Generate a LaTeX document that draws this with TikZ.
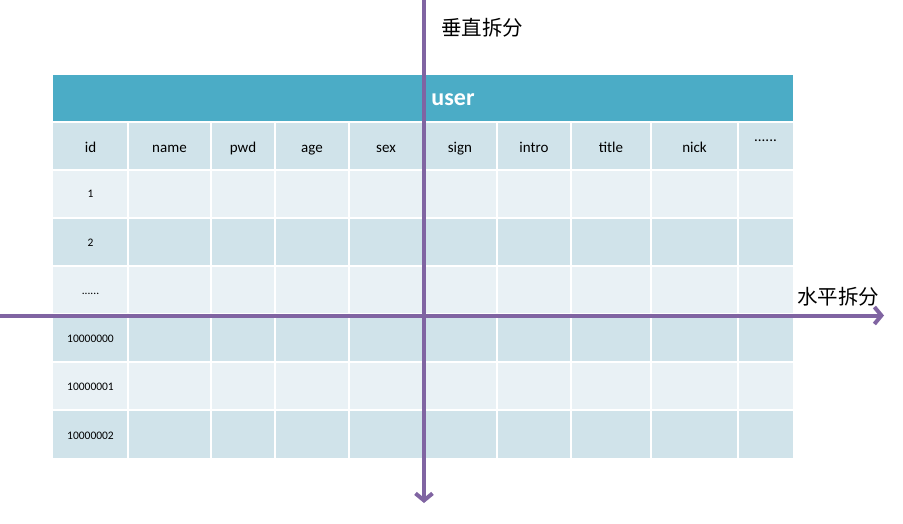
\documentclass[tikz,border=0pt]{standalone}
\usepackage{fontspec}
\setmainfont{Carlito}
\newfontfamily\cjk{Noto Sans CJK SC}
\usetikzlibrary{arrows.meta}
\definecolor{hdrblue}{HTML}{4BACC6}
\definecolor{rowdark}{HTML}{D0E3EA}
\definecolor{rowlight}{HTML}{E9F1F5}
\definecolor{splitpurple}{HTML}{8064A2}

\begin{document}
\begin{tikzpicture}[x=1pt,y=-1pt,
  split/.style={line width=4pt,color=splitpurple,-{Straight Barb[length=7pt,width=17pt]}},
  colname/.style={font=\fontsize{15}{18}\selectfont,inner sep=0pt,anchor=base},
  rowid/.style={font=\fontsize{11.5}{14}\selectfont,inner sep=0pt,anchor=base},
  splitlabel/.style={font=\cjk\fontsize{20.5}{24}\selectfont,anchor=west,inner sep=0pt}]
\useasboundingbox (0,0) rectangle (903,523);

\fill[hdrblue] (53,75) rectangle (793,121);
\foreach \top/\clr in {123/rowdark,170/rowlight,218/rowdark,266/rowlight,314/rowdark,362/rowlight,410/rowdark}
  \fill[\clr] (53,\top) rectangle (793,\top+47.5);

\foreach \cx in {128,211,275,349,423,497,571,651,738}
  \draw[white,line width=1.5pt] (\cx,123) -- (\cx,457.5);
\foreach \cy in {170,218,266,314,362,410}
  \draw[white,line width=1.5pt] (53,\cy) -- (793,\cy);

\node[font=\bfseries\fontsize{24}{28}\selectfont,text=white,inner sep=0pt,anchor=base] (tabname) at (453,105.5) {user};

\foreach \txt/\cx [count=\i] in {id/90.5,name/169.5,pwd/243,age/312,sex/386,sign/460,intro/534,title/611,nick/694.5}
  \node[colname] (col\i) at (\cx,152.5) {\txt};
\node[colname] (colmore) at (765.5,141.5) {......};

\foreach \txt/\cy [count=\i] in {1/197.5,2/246,10000000/342,10000001/390.5,10000002/439}
  \node[rowid] (row\i) at (90.5,\cy) {\txt};
\node[rowid] (rowmore) at (90.5,294) {......};

\coordinate (vtop) at (424,0);
\coordinate (vbot) at (424,503);
\coordinate (hleft) at (0,315.5);
\coordinate (hright) at (884,315.5);
\draw[split] (vtop) -- (vbot);
\draw[split] (hleft) -- (hright);

\node[splitlabel] (vlabel) at (441,28) {垂直拆分};
\node[splitlabel] (hlabel) at (797,297) {水平拆分};
\end{tikzpicture}
\end{document}
